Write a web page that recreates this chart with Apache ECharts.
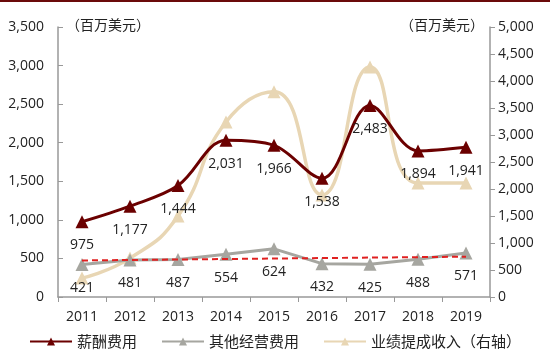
<!DOCTYPE html>
<html><head><meta charset="utf-8">
<script src="https://cdn.jsdelivr.net/npm/echarts@6/dist/echarts.min.js"></script>
<style>html,body{margin:0;padding:0;background:#fff}#c{width:550px;height:356px}</style>
</head><body><div id="c"></div>
<script>
const years = ['2011','2012','2013','2014','2015','2016','2017','2018','2019'];
const salary = [975, 1177, 1444, 2031, 1966, 1538, 2483, 1894, 1941];
const otherOpex = [421, 481, 487, 554, 624, 432, 425, 488, 571];
const perfFee = [350, 720, 1500, 3240, 3800, 1890, 4260, 2110, 2110];
const trend = [474, null, null, null, null, null, null, null, 523];
const seriesNames = ['薪酬费用', '其他经营费用', '业绩提成收入（右轴）'];
const unitLabel = '（百万美元）';

const fmt = v => v.toLocaleString('en-US');
const font = '"Noto Sans CJK SC", "Noto Sans", sans-serif';
const numFont = '"Open Sans", "Liberation Sans", sans-serif';
const chart = echarts.init(document.getElementById('c'));
chart.setOption({
  animation: false,
  graphic: [
    {type: 'rect', shape: {x: 0, y: 0, width: 550, height: 2}, style: {fill: '#6B0A0A'}},
    {type: 'text', left: 66, top: 18, style: {text: unitLabel, font: '14px ' + font, fill: '#222'}},
    {type: 'text', right: 66, top: 18, style: {text: unitLabel, font: '14px ' + font, fill: '#222'}}
  ],
  grid: {left: 58, right: 60, top: 27, bottom: 59},
  legend: {
    bottom: 2, left: 'center', itemWidth: 42, itemHeight: 10, itemGap: 24,
    textStyle: {fontFamily: font, fontSize: 15, color: '#222'},
    data: seriesNames
  },
  xAxis: {
    type: 'category', data: years, boundaryGap: true,
    axisLine: {lineStyle: {color: '#999', width: 1.5}},
    axisTick: {show: true, length: 5, lineStyle: {color: '#999'}},
    axisLabel: {color: '#222', fontSize: 14, fontFamily: numFont, margin: 13}
  },
  yAxis: [
    {type: 'value', min: 0, max: 3500, interval: 500,
     axisLine: {show: true, lineStyle: {color: '#999', width: 1.5}},
     axisTick: {show: true, inside: true, length: 5, lineStyle: {color: '#999'}},
     splitLine: {show: false},
     axisLabel: {color: '#222', fontSize: 14, fontFamily: numFont, margin: 14, formatter: fmt}},
    {type: 'value', min: 0, max: 5000, interval: 500,
     axisLine: {show: true, lineStyle: {color: '#999', width: 1.5}},
     axisTick: {show: true, length: 5, lineStyle: {color: '#999'}},
     splitLine: {show: false},
     axisLabel: {color: '#222', fontSize: 14, fontFamily: numFont, margin: 8, formatter: fmt}}
  ],
  series: [
    {name: seriesNames[2], type: 'line', yAxisIndex: 1, data: perfFee, smooth: 0.5,
     symbol: 'triangle', symbolSize: 13, z: 2,
     lineStyle: {color: '#E8D6B4', width: 3.5}, itemStyle: {color: '#E8D6B4'}},
    {name: seriesNames[1], type: 'line', yAxisIndex: 0, data: otherOpex,
     symbol: 'triangle', symbolSize: 13, z: 3,
     lineStyle: {color: '#A6A6A0', width: 3}, itemStyle: {color: '#A6A6A0'},
     label: {show: true, position: 'bottom', distance: 10, color: '#222', fontSize: 14, fontFamily: numFont, formatter: p => fmt(p.value)}},
    {name: 'trend', type: 'line', yAxisIndex: 0, data: trend, connectNulls: true,
     symbol: 'none', z: 4, lineStyle: {color: '#E02020', width: 2, type: [6, 4]}},
    {name: seriesNames[0], type: 'line', yAxisIndex: 0, data: salary, smooth: 0.35,
     symbol: 'triangle', symbolSize: 13, z: 5,
     lineStyle: {color: '#6B0000', width: 3}, itemStyle: {color: '#6B0000'},
     label: {show: true, position: 'bottom', distance: 10, color: '#222', fontSize: 14, fontFamily: numFont, formatter: p => fmt(p.value)}}
  ]
});
</script></body></html>
